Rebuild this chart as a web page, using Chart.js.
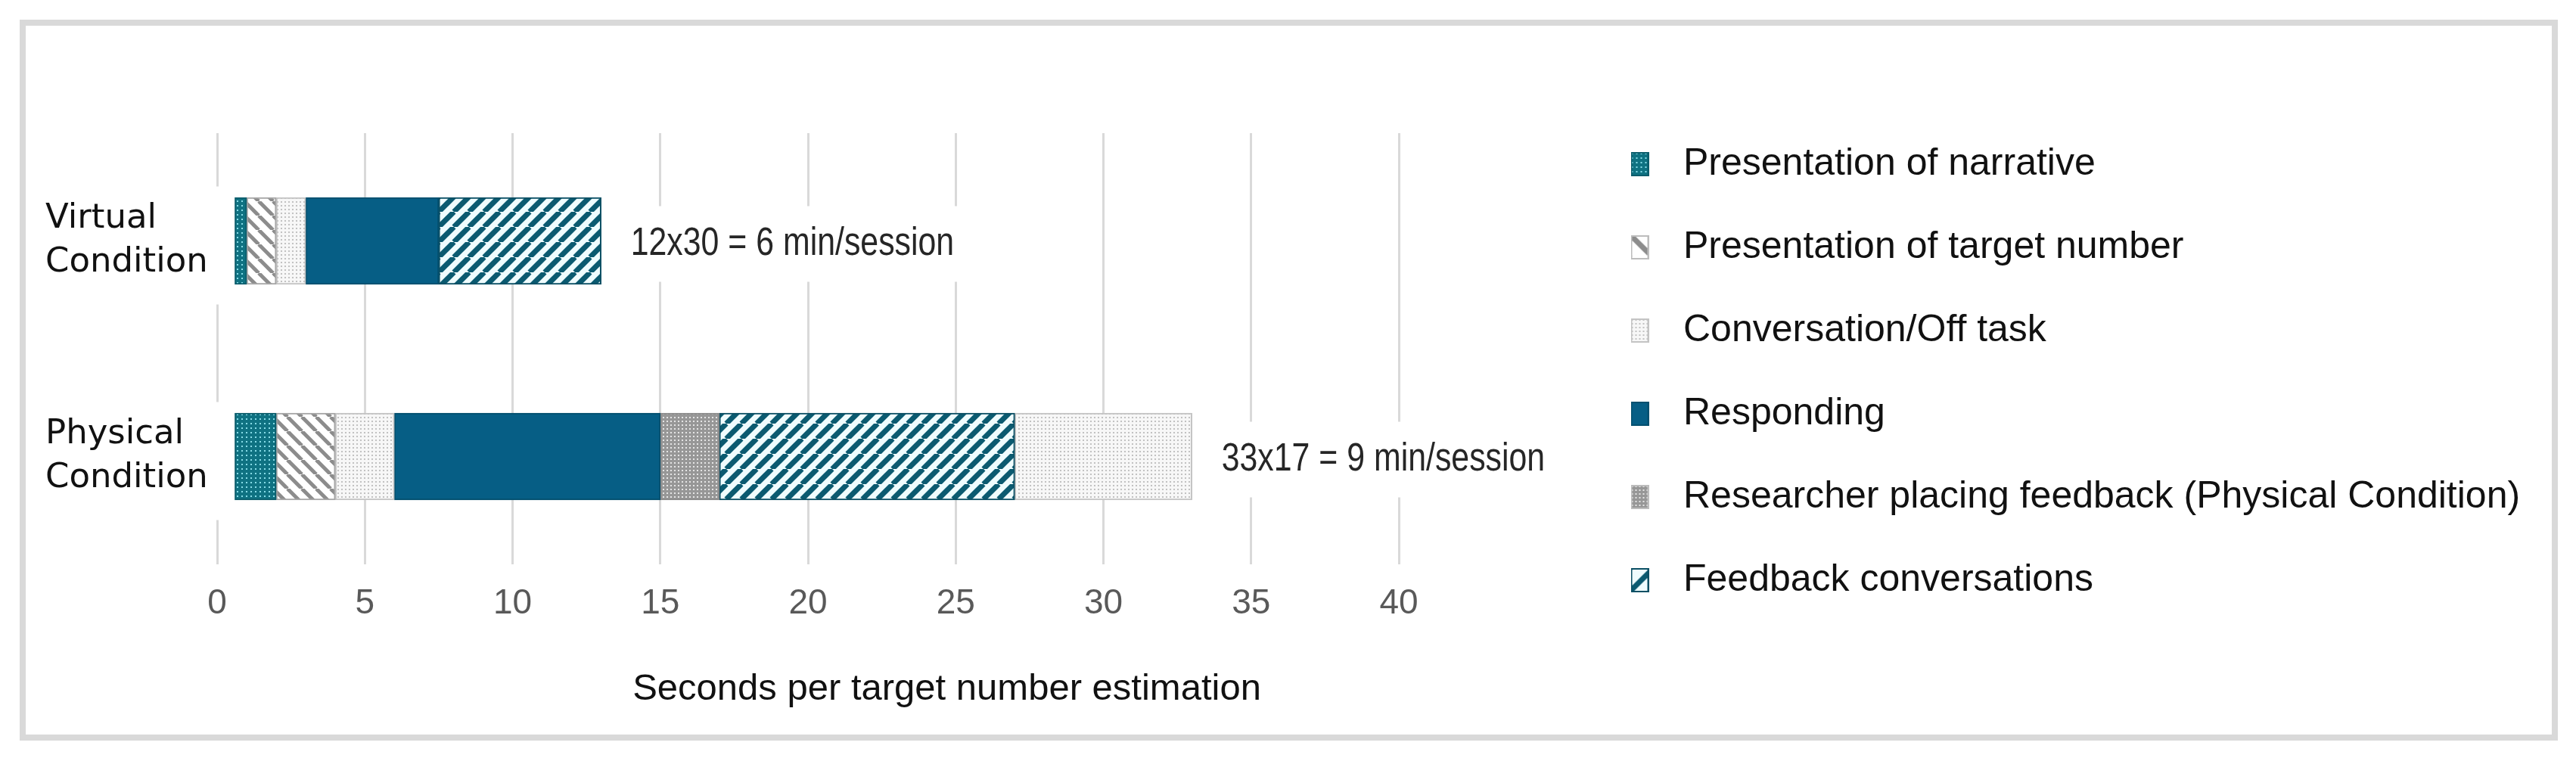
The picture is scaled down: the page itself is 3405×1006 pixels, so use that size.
<!DOCTYPE html>
<html>
<head>
<meta charset="utf-8">
<title>Seconds per target number estimation</title>
<script src="https://cdn.jsdelivr.net/npm/chart.js@4.4.1/dist/chart.umd.min.js"></script>
<style>
  html, body { margin: 0; padding: 0; background: #fff; }
  #wrap { width: 3405px; height: 1006px; }
</style>
</head>
<body>
<div id="wrap"><canvas id="timeChart" width="3405" height="1006"></canvas></div>
<script>
// values (seconds)
const categories = [["Virtual", "Condition"], ["Physical", "Condition"]];
const startGap = [0.6, 0.6];
const narrative = [0.4, 1.4];
const targetNumber = [1.0, 2.0];
const offTask = [1.0, 2.0];
const responding = [4.5, 9.0];
const researcherFeedback = [0, 2.0];
const feedbackTalk = [5.5, 10.0];
const offTaskAfter = [0, 6.0];
const xTicks = [0, 5, 10, 15, 20, 25, 30, 35, 40];
const sessionNotes = ["12x30 = 6 min/session", "33x17 = 9 min/session"];
const noteAt = [14.0, 34.0];
const axisTitle = "Seconds per target number estimation";

const SANS = "'Liberation Sans', Arial, sans-serif";
const LEGEND_FONT = 50;

const ctx = document.getElementById("timeChart").getContext("2d");

// little pattern tiles
function dots(bg, dot, step, size) {
  const c = document.createElement("canvas");
  c.width = c.height = step;
  const g = c.getContext("2d");
  g.fillStyle = bg;
  g.fillRect(0, 0, step, step);
  g.fillStyle = dot;
  g.fillRect(1, 1, size, size);
  return c;
}
function stripes(bg, line, step, width, dir) {
  const c = document.createElement("canvas");
  c.width = c.height = step;
  const g = c.getContext("2d");
  g.fillStyle = bg;
  g.fillRect(0, 0, step, step);
  g.strokeStyle = line;
  g.lineWidth = width;
  for (let k = -1; k <= 1; k++) {
    g.beginPath();
    if (dir > 0) { g.moveTo(k * step, step); g.lineTo(k * step + step, 0); }
    else { g.moveTo(k * step, 0); g.lineTo(k * step + step, step); }
    g.stroke();
  }
  return c;
}
function marker(tile, border) {
  const c = document.createElement("canvas");
  c.width = 24; c.height = 32;
  const g = c.getContext("2d");
  g.fillStyle = typeof tile === "string" ? tile : g.createPattern(tile, "repeat");
  g.fillRect(0, 0, 24, 32);
  g.strokeStyle = border;
  g.lineWidth = 2;
  g.strokeRect(1, 1, 22, 30);
  return c;
}

const narrTile = dots("#0f7282", "#86dbe6", 6, 2);
const targetTile = stripes("#ffffff", "#8c8c8c", 19, 5, -1);
const offTile = dots("#f7f7f7", "#c2c2c2", 5, 2);
const researchTile = dots("#979797", "#e4e4e4", 5, 2);
const feedbackTile = stripes("#effcfe", "#0b5a70", 20, 7, 1);
const pat = t => ctx.createPattern(t, "repeat");

const segs = [
  { label: "", data: startGap, fill: "rgba(0,0,0,0)", border: "rgba(0,0,0,0)", legend: false, bw: 0 },
  { label: "Presentation of narrative", data: narrative, fill: pat(narrTile), border: "#0b5d6c", mark: marker(narrTile, "#0b5d6c") },
  { label: "Presentation of target number", data: targetNumber, fill: pat(targetTile), border: "#a6a6a6", mark: marker(stripes("#ffffff", "#8c8c8c", 30, 7, -1), "#bdbdbd") },
  { label: "Conversation/Off task", data: offTask, fill: pat(offTile), border: "#c4c4c4", mark: marker(offTile, "#c4c4c4") },
  { label: "Responding", data: responding, fill: "#065e85", border: "#04506f", mark: marker("#065e85", "#04506f") },
  { label: "Researcher placing feedback (Physical Condition)", data: researcherFeedback, fill: pat(researchTile), border: "#8a8a8a", mark: marker(researchTile, "#bdbdbd") },
  { label: "Feedback conversations", data: feedbackTalk, fill: pat(feedbackTile), border: "#0b4f64", mark: marker(stripes("#effcfe", "#0b5a70", 30, 7, 1), "#0b4f64") },
  { label: "Conversation/Off task", data: offTaskAfter, fill: pat(offTile), border: "#c4c4c4", legend: false }
];

const datasets = segs.map(s => ({
  label: s.label,
  data: s.data,
  backgroundColor: s.fill,
  borderColor: s.border,
  borderWidth: s.bw === 0 ? 0 : 2,
  borderSkipped: false,
  barThickness: 115
}));

// legend width, so the legend starts where the picture has it
ctx.font = LEGEND_FONT + "px " + SANS;
const longest = Math.max(...segs.filter(s => s.legend !== false).map(s => ctx.measureText(s.label).width));
const legendW = 60 + 65 + LEGEND_FONT / 2 + longest + 10;
const padRight = Math.max(0, 3405 - 2075 - legendW);

const framePlugin = {
  id: "frame",
  beforeDraw(chart) {
    const c = chart.ctx;
    c.save();
    c.fillStyle = "#fff";
    c.fillRect(0, 0, chart.width, chart.height);
    c.strokeStyle = "#d9d9d9";
    c.lineWidth = 8;
    c.strokeRect(30, 30, 3347, 945);
    c.restore();
  },
  beforeDatasetsDraw(chart) {
    // the zero gridline is broken beside each bar
    const c = chart.ctx, x0 = chart.scales.x.getPixelForValue(0);
    c.save();
    c.fillStyle = "#fff";
    categories.forEach((_, i) => {
      const y = chart.scales.y.getPixelForValue(i);
      c.fillRect(x0 - 6, y - 72, 12, 156);
    });
    c.restore();
  },
  afterDatasetsDraw(chart) {
    const c = chart.ctx, xs = chart.scales.x, ys = chart.scales.y;
    c.save();
    c.font = "51px " + SANS;
    c.textBaseline = "middle";
    sessionNotes.forEach((t, i) => {
      const x = xs.getPixelForValue(noteAt[i]);
      const y = ys.getPixelForValue(i) + 4;
      const w = c.measureText(t).width * 0.84;
      c.fillStyle = "#fff";
      c.fillRect(x - 12, y - 50, w + 24, 100);
      c.save();
      c.translate(x, y);
      c.scale(0.84, 1);
      c.fillStyle = "#262626";
      c.fillText(t, 0, 0);
      c.restore();
    });
    c.font = "49px " + SANS;
    c.fillStyle = "#111";
    c.textAlign = "center";
    c.fillText(axisTitle, xs.getPixelForValue(24.7), chart.chartArea.bottom + 165);
    c.restore();
  }
};

new Chart(ctx, {
  type: "bar",
  data: { labels: categories, datasets: datasets },
  options: {
    indexAxis: "y",
    responsive: false,
    animation: false,
    layout: { padding: { left: 60, top: 30, right: padRight, bottom: 52 } },
    plugins: {
      tooltip: { enabled: false },
      legend: {
        position: "right",
        maxWidth: 2000,
        labels: {
          usePointStyle: true,
          pointStyleWidth: 65,
          padding: 60,
          color: "#111",
          font: { family: SANS, size: LEGEND_FONT },
          generateLabels(chart) {
            const items = Chart.defaults.plugins.legend.labels.generateLabels(chart);
            items.forEach(it => { it.pointStyle = segs[it.datasetIndex].mark; });
            return items;
          },
          filter: it => segs[it.datasetIndex].legend !== false
        }
      }
    },
    scales: {
      x: {
        stacked: true,
        min: xTicks[0],
        max: xTicks[xTicks.length - 1],
        ticks: { stepSize: xTicks[1] - xTicks[0], padding: 25, color: "#595959", font: { family: SANS, size: 46 } },
        grid: { color: "#d9d9d9", lineWidth: 3, drawTicks: false },
        border: { display: false },
        afterFit: s => { s.height = 208; }
      },
      y: {
        stacked: true,
        grid: { display: false },
        border: { display: false },
        ticks: { crossAlign: "far", padding: 0, color: "#111", font: { family: "'DejaVu Sans', sans-serif", size: 45, lineHeight: 1.3 } },
        afterFit: s => { s.width = 227; }
      },
      topGap: {
        type: "linear", axis: "x", position: "top",
        grid: { display: false }, border: { display: false }, ticks: { display: false },
        afterFit: s => { s.height = 146; }
      },
      rightGap: {
        type: "linear", axis: "y", position: "right",
        grid: { display: false }, border: { display: false }, ticks: { display: false },
        afterFit: s => { s.width = 226; }
      }
    }
  },
  plugins: [framePlugin]
});
</script>
</body>
</html>
